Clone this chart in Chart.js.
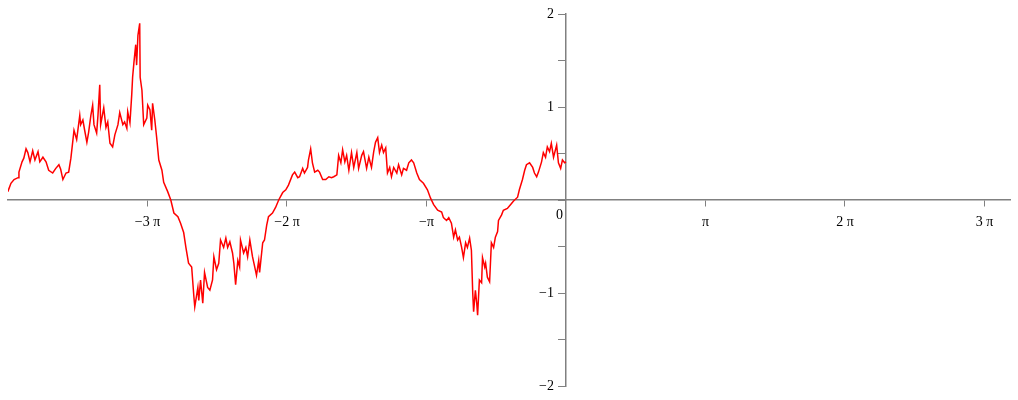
<!DOCTYPE html>
<html>
<head>
<meta charset="utf-8">
<script src="https://cdn.jsdelivr.net/npm/chart.js@4/dist/chart.umd.min.js"></script>
<style>
  body { margin: 0; background: #fff; }
</style>
</head>
<body>
<canvas id="chart" width="1018" height="400"></canvas>
<script>
// sampled curve, x in radians
var xs = [-12.57, -12.50, -12.43, -12.34, -12.32, -12.25, -12.21, -12.16, -12.12, -12.07,
  -12.01, -11.96, -11.89, -11.85, -11.78, -11.71, -11.65, -11.56, -11.49, -11.42,
  -11.38, -11.33, -11.26, -11.20, -11.15, -11.11, -11.08, -11.02, -10.95, -10.93,
  -10.88, -10.84, -10.79, -10.75, -10.70, -10.66, -10.63, -10.57, -10.54, -10.50,
  -10.48, -10.41, -10.36, -10.32, -10.27, -10.21, -10.16, -10.09, -10.05, -9.98,
  -9.94, -9.89, -9.87, -9.82, -9.78, -9.76, -9.73, -9.69, -9.67, -9.64,
  -9.60, -9.59, -9.55, -9.51, -9.44, -9.42, -9.37, -9.33, -9.31, -9.26,
  -9.22, -9.17, -9.10, -9.06, -8.97, -8.90, -8.83, -8.74, -8.68, -8.61,
  -8.56, -8.50, -8.43, -8.38, -8.36, -8.29, -8.27, -8.23, -8.18, -8.14,
  -8.07, -8.02, -7.96, -7.93, -7.87, -7.82, -7.78, -7.71, -7.66, -7.62,
  -7.57, -7.51, -7.48, -7.44, -7.39, -7.35, -7.33, -7.26, -7.21, -7.17,
  -7.12, -7.06, -7.01, -6.97, -6.92, -6.90, -6.83, -6.79, -6.74, -6.70,
  -6.61, -6.54, -6.47, -6.38, -6.31, -6.25, -6.16, -6.11, -6.04, -6.00,
  -5.93, -5.89, -5.82, -5.80, -5.75, -5.71, -5.66, -5.59, -5.55, -5.48,
  -5.41, -5.34, -5.28, -5.23, -5.16, -5.12, -5.07, -5.03, -4.98, -4.94,
  -4.89, -4.83, -4.78, -4.71, -4.67, -4.60, -4.56, -4.49, -4.44, -4.38,
  -4.33, -4.29, -4.24, -4.20, -4.15, -4.11, -4.06, -4.02, -3.97, -3.93,
  -3.88, -3.81, -3.77, -3.70, -3.66, -3.59, -3.54, -3.48, -3.43, -3.36,
  -3.30, -3.21, -3.12, -3.05, -2.98, -2.89, -2.80, -2.76, -2.69, -2.64,
  -2.58, -2.53, -2.49, -2.44, -2.40, -2.35, -2.31, -2.26, -2.22, -2.17,
  -2.13, -2.10, -2.08, -2.04, -2.01, -1.99, -1.95, -1.90, -1.88, -1.83,
  -1.81, -1.77, -1.72, -1.68, -1.63, -1.59, -1.54, -1.52, -1.45, -1.41,
  -1.32, -1.25, -1.18, -1.09, -1.05, -0.98, -0.93, -0.89, -0.82, -0.75,
  -0.71, -0.66, -0.62, -0.55, -0.51, -0.46, -0.42, -0.37, -0.33, -0.28,
  -0.21, -0.17, -0.12, -0.08, -0.03, 0];

var ys = [0.09, 0.18, 0.22, 0.24, 0.30, 0.41, 0.45, 0.55, 0.51, 0.41,
  0.53, 0.43, 0.52, 0.41, 0.46, 0.41, 0.32, 0.29, 0.34, 0.38,
  0.33, 0.22, 0.29, 0.30, 0.45, 0.62, 0.75, 0.65, 0.91, 0.81,
  0.86, 0.75, 0.62, 0.73, 0.91, 1.02, 0.81, 0.72, 0.91, 1.24,
  0.81, 0.99, 0.78, 0.84, 0.61, 0.57, 0.70, 0.81, 0.94, 0.81,
  0.84, 0.77, 0.95, 0.83, 1.13, 1.32, 1.48, 1.67, 1.45, 1.77,
  1.90, 1.32, 1.18, 0.81, 0.88, 1.02, 0.97, 0.75, 1.04, 0.86,
  0.68, 0.43, 0.32, 0.19, 0.09, 0.00, -0.14, -0.18, -0.25, -0.35,
  -0.51, -0.68, -0.72, -1.04, -1.15, -0.94, -1.08, -0.86, -1.11, -0.78,
  -0.94, -0.97, -0.86, -0.61, -0.75, -0.68, -0.43, -0.51, -0.41, -0.51,
  -0.45, -0.57, -0.68, -0.91, -0.65, -0.72, -0.43, -0.57, -0.51, -0.61,
  -0.43, -0.61, -0.72, -0.81, -0.65, -0.78, -0.46, -0.43, -0.27, -0.18,
  -0.14, -0.08, 0.00, 0.08, 0.11, 0.16, 0.27, 0.30, 0.24, 0.25,
  0.34, 0.29, 0.35, 0.43, 0.55, 0.40, 0.30, 0.32, 0.30, 0.22,
  0.22, 0.25, 0.24, 0.25, 0.27, 0.48, 0.40, 0.54, 0.41, 0.48,
  0.32, 0.51, 0.35, 0.51, 0.34, 0.48, 0.52, 0.34, 0.46, 0.35,
  0.52, 0.62, 0.67, 0.51, 0.59, 0.51, 0.56, 0.29, 0.35, 0.25,
  0.35, 0.29, 0.38, 0.27, 0.34, 0.32, 0.40, 0.43, 0.40, 0.29,
  0.22, 0.18, 0.11, 0.02, -0.05, -0.11, -0.13, -0.19, -0.22, -0.19,
  -0.25, -0.40, -0.32, -0.43, -0.40, -0.51, -0.62, -0.46, -0.51, -0.41,
  -0.54, -1.00, -1.20, -0.97, -1.11, -1.24, -0.86, -0.89, -0.62, -0.72,
  -0.68, -0.83, -0.88, -0.46, -0.51, -0.40, -0.34, -0.22, -0.16, -0.11,
  -0.09, -0.05, -0.01, 0.03, 0.11, 0.22, 0.32, 0.38, 0.40, 0.35,
  0.29, 0.25, 0.30, 0.41, 0.51, 0.46, 0.57, 0.52, 0.61, 0.46,
  0.59, 0.40, 0.34, 0.43, 0.40, 0.41];

// axis ranges and ticks
var xRange = [-4 * Math.PI, 10];
var yRange = [-2, 2];
var xTickMultiples = [-3, -2, -1, 0, 1, 2, 3];
var yTickValues = [-2, -1.5, -1, -0.5, 0, 0.5, 1, 1.5, 2];
var yLabelValues = [-2, -1, 1, 2];

var axisColor = '#808080';
var labelFont = { family: '"Liberation Serif", "Times New Roman", serif', size: 14 };

function piLabel(n) {
  if (n === 0) { return ''; }
  if (n === 1) { return 'π'; }
  if (n === -1) { return '−π'; }
  return (n < 0 ? '−' : '') + Math.abs(n) + ' π';
}

function numLabel(v) {
  return v < 0 ? '−' + Math.abs(v) : String(v);
}

// y labels and the origin label, placed off the crossing axes
var axisLabels = {
  id: 'axisLabels',
  afterDraw: function (chart) {
    var ctx = chart.ctx;
    var xs0 = chart.scales.x, ys0 = chart.scales.y;
    var px = xs0.getPixelForValue(0);
    var py = ys0.getPixelForValue(0);
    ctx.save();
    ctx.fillStyle = '#000';
    ctx.font = labelFont.size + 'px ' + labelFont.family;
    ctx.textAlign = 'right';
    ctx.textBaseline = 'middle';
    yLabelValues.forEach(function (v) {
      ctx.fillText(numLabel(v), px - 12, ys0.getPixelForValue(v));
    });
    ctx.fillText('0', px - 3, py + 15);
    ctx.restore();
  }
};

var points = xs.map(function (x, i) { return { x: x, y: ys[i] }; });

new Chart(document.getElementById('chart'), {
  type: 'line',
  data: {
    datasets: [{
      data: points,
      borderColor: '#ff0000',
      borderWidth: 1.5,
      pointRadius: 0,
      tension: 0,
      fill: false
    }]
  },
  options: {
    responsive: false,
    animation: false,
    layout: { padding: { left: 8, right: 8, top: 14, bottom: 14 } },
    plugins: { legend: { display: false }, tooltip: { enabled: false } },
    scales: {
      x: {
        type: 'linear',
        min: xRange[0],
        max: xRange[1],
        position: { y: 0 },
        afterBuildTicks: function (axis) {
          axis.ticks = xTickMultiples.map(function (n) { return { value: n * Math.PI }; });
        },
        ticks: {
          autoSkip: false,
          maxRotation: 0,
          padding: 8,
          color: '#000',
          font: labelFont,
          callback: function (v) { return piLabel(Math.round(v / Math.PI)); }
        },
        grid: {
          drawOnChartArea: false,
          drawTicks: true,
          tickLength: 6,
          color: axisColor
        },
        border: { display: true, color: axisColor, width: 1.5 }
      },
      y: {
        type: 'linear',
        min: yRange[0],
        max: yRange[1],
        position: { x: 0 },
        afterBuildTicks: function (axis) {
          axis.ticks = yTickValues.map(function (v) { return { value: v }; });
        },
        ticks: {
          autoSkip: false,
          callback: function () { return ''; }
        },
        grid: {
          drawOnChartArea: false,
          drawTicks: true,
          tickLength: 7,
          color: axisColor
        },
        border: { display: true, color: axisColor, width: 1.5 }
      }
    }
  },
  plugins: [axisLabels]
});
</script>
</body>
</html>
